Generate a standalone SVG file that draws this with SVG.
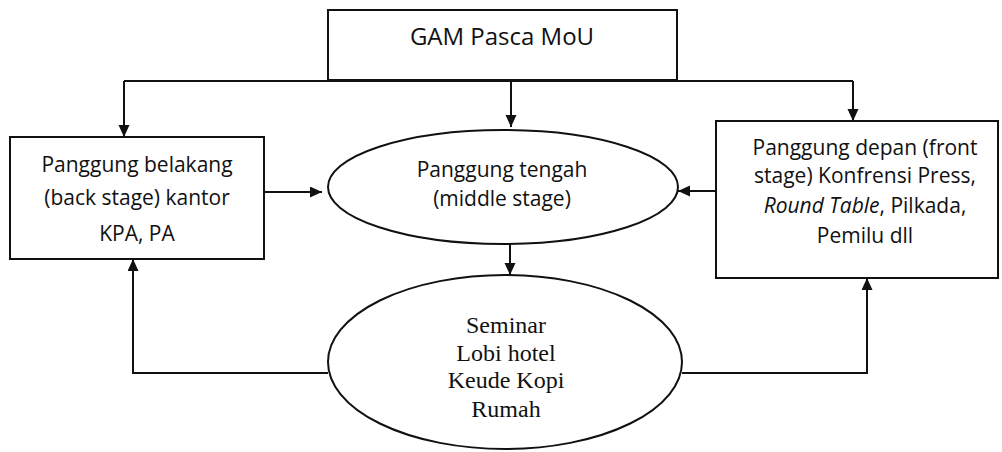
<svg xmlns="http://www.w3.org/2000/svg" width="1002" height="452" viewBox="0 0 1002 452">
<style>
.shape{fill:#fff;stroke:#111;stroke-width:2}
.line{fill:none;stroke:#111;stroke-width:2}
.sans{font-family:"Open Sans","Liberation Sans",sans-serif;font-size:21px;fill:#111;text-anchor:middle}
.top{font-size:24px}
.serif{font-family:"Liberation Serif","Times New Roman",serif;font-size:24px;fill:#111;text-anchor:middle}
</style>
<defs>
<marker id="ah" markerUnits="userSpaceOnUse" markerWidth="13" markerHeight="12" refX="12" refY="5.5" orient="auto">
<path d="M0,0 L12,5.5 L0,11 z" fill="#111"/>
</marker>
</defs>
<rect width="1002" height="452" fill="#fff"/>
<g id="connectors">
<path class="line" d="M124,81 H853"/>
<path class="line" d="M124,81 V137" marker-end="url(#ah)"/>
<path class="line" d="M511,81 V127" marker-end="url(#ah)"/>
<path class="line" d="M853,81 V121" marker-end="url(#ah)"/>
<path class="line" d="M264,192 H322" marker-end="url(#ah)"/>
<path class="line" d="M716,191 H678" marker-end="url(#ah)"/>
<path class="line" d="M510,244 V275" marker-end="url(#ah)"/>
<path class="line" d="M328,373 H133 V259" marker-end="url(#ah)"/>
<path class="line" d="M682,373 H867 V278" marker-end="url(#ah)"/>
</g>
<g id="gam">
<rect class="shape" x="328" y="10" width="349" height="70"/>
<text class="sans top" x="502" y="45">GAM Pasca MoU</text>
</g>
<g id="belakang">
<rect class="shape" x="10" y="137" width="254" height="122"/>
<text class="sans" x="137" y="172">Panggung belakang</text>
<text class="sans" x="137" y="205">(back stage) kantor</text>
<text class="sans" x="137" y="241">KPA, PA</text>
</g>
<g id="tengah">
<ellipse class="shape" cx="503" cy="187" rx="175" ry="57"/>
<text class="sans" x="502" y="177">Panggung tengah</text>
<text class="sans" x="502" y="206">(middle stage)</text>
</g>
<g id="depan">
<rect class="shape" x="716" y="121" width="282" height="157"/>
<text class="sans" x="865" y="155">Panggung depan (front</text>
<text class="sans" x="865" y="183">stage) Konfrensi Press,</text>
<text class="sans" x="865" y="213"><tspan font-style="italic">Round Table</tspan>, Pilkada,</text>
<text class="sans" x="865" y="243">Pemilu dll</text>
</g>
<g id="seminar">
<ellipse class="shape" cx="505" cy="362" rx="177" ry="87"/>
<text class="serif" x="506" y="333">Seminar</text>
<text class="serif" x="506" y="361">Lobi hotel</text>
<text class="serif" x="506" y="388">Keude Kopi</text>
<text class="serif" x="506" y="417">Rumah</text>
</g>
</svg>
